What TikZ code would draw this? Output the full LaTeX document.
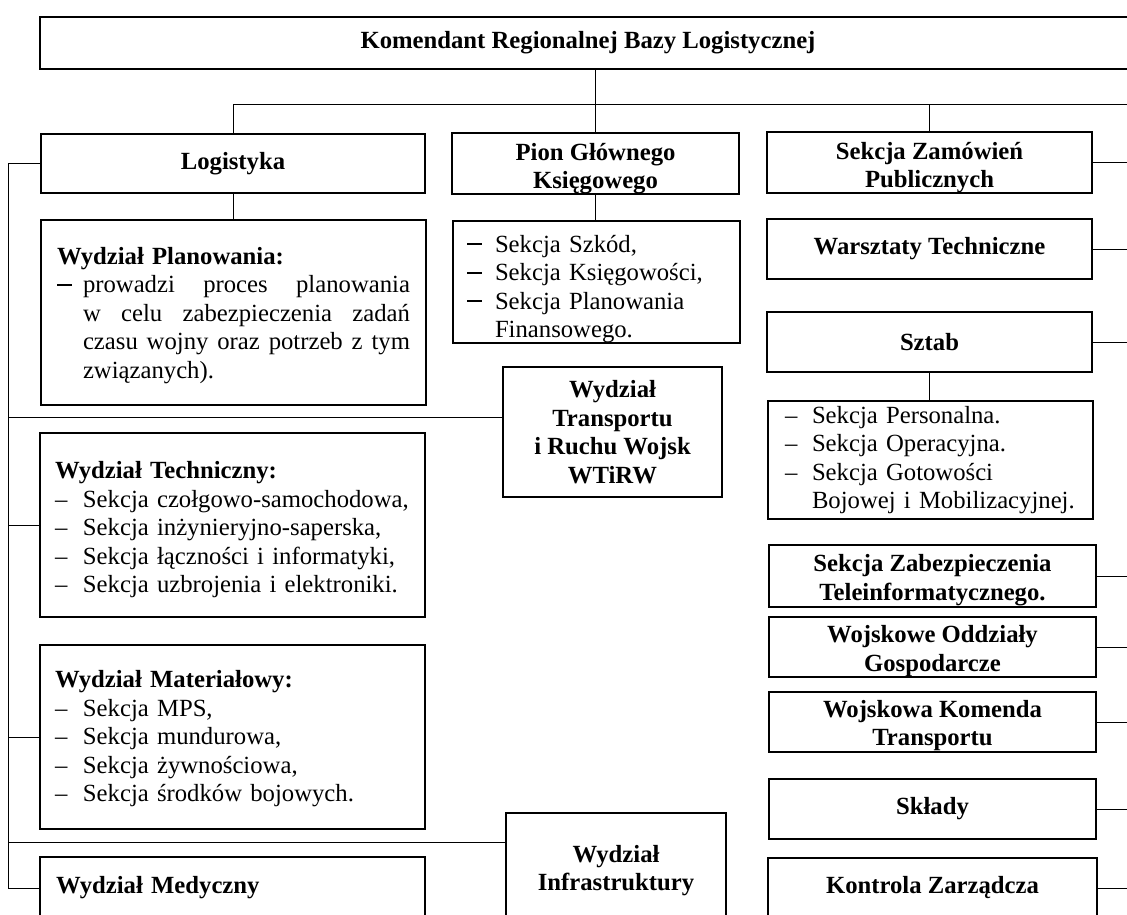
\documentclass[tikz,border=0pt]{standalone}
\usepackage{fontspec}
\setmainfont{Liberation Serif}
\usetikzlibrary{calc}
\newcommand{\li}[1]{\makebox[28pt][l]{–}#1}
\newcommand{\lr}[2]{\makebox[#1][l]{\rule[7pt]{15pt}{1.8pt}}#2}
\newcommand{\st}[1]{\rule{0pt}{#1pt}}
\begin{document}
\begin{tikzpicture}[x=1pt,y=-1pt,
  every node/.style={font=\fontsize{24.7}{28.5}\selectfont},
  box/.style={draw, line width=1.5pt, inner sep=0pt, rectangle},
  hd/.style={box, font=\fontsize{24.7}{28.5}\selectfont\bfseries, align=center},
  lst/.style={box, align=left, inner ysep=0pt},
  conn/.style={line width=0.9pt}]
\useasboundingbox (0,0) rectangle (1127,915);
\clip (0,0) rectangle (1127,915);

% top and first row
\node[hd, minimum width=1096pt, minimum height=52pt] (top) at (588,43) {Komendant Regionalnej Bazy Logistycznej};
\node[hd, minimum width=384pt, minimum height=59pt] (log) at (233,163.5) {Logistyka};
\node[hd, minimum width=287pt, minimum height=59pt] (pion) at (595.5,163.5) {\st{27}Pion Głównego\\Księgowego};
\node[hd, minimum width=325pt, minimum height=61pt] (zam) at (929.5,162.5) {\st{27}Sekcja Zamówień\\Publicznych};

% left column
\node[lst, text width=353pt, inner xsep=16pt, minimum height=185pt] (plan) at (233.5,312.5)
 {\st{23}\textbf{Wydział Planowania:}\\
  \lr{26pt}{\makebox[327pt][l]{prowadzi\hfill proces\hfill planowania}}\\
  \hspace*{26pt}\makebox[327pt][l]{w\hfill celu\hfill zabezpieczenia\hfill zadań}\\
  \hspace*{26pt}\makebox[327pt][l]{czasu\hfill wojny\hfill oraz\hfill potrzeb\hfill z\hfill tym}\\
  \hspace*{26pt}związanych).};
\node[lst, text width=355pt, inner xsep=15pt, minimum height=184pt] (tech) at (232.5,525)
 {\st{27}\textbf{Wydział Techniczny:}\\
  \li{Sekcja czołgowo-samochodowa,}\\
  \li{Sekcja inżynieryjno-saperska,}\\
  \li{Sekcja łączności i informatyki,}\\
  \li{Sekcja uzbrojenia i elektroniki.}};
\node[lst, text width=355pt, inner xsep=15pt, minimum height=184pt] (mat) at (232.5,737)
 {\st{21}\textbf{Wydział Materiałowy:}\\
  \li{Sekcja MPS,}\\
  \li{Sekcja mundurowa,}\\
  \li{Sekcja żywnościowa,}\\
  \li{Sekcja środków bojowych.}};
\node[lst, text width=353pt, inner xsep=16pt, minimum height=62pt] (med) at (232.5,888)
 {\textbf{Wydział Medyczny}};

% middle column
\node[lst, text width=259pt, inner xsep=14pt, minimum height=122pt] (pionsub) at (596.5,282)
 {\st{31}\lr{28pt}{Sekcja Szkód,}\\
  \lr{28pt}{Sekcja Księgowości,}\\
  \lr{28pt}{Sekcja Planowania}\\
  \hspace*{28pt}Finansowego.};
\node[hd, minimum width=219pt, minimum height=130pt] (wtirw) at (612.5,432) {Wydział\\Transportu\\i Ruchu Wojsk\\WTiRW};
\node[hd, minimum width=220pt, minimum height=110pt] (infra) at (616,868) {\st{22}Wydział\\Infrastruktury};

% right column
\node[hd, minimum width=325pt, minimum height=60pt] (warsz) at (929.5,249) {Warsztaty Techniczne};
\node[hd, minimum width=325pt, minimum height=60pt] (sztab) at (929.5,342) {Sztab};
\node[lst, text width=291pt, inner xsep=17pt, minimum height=118pt] (sztabsub) at (930.5,460)
 {\makebox[27pt][l]{–}Sekcja Personalna.\\
  \makebox[27pt][l]{–}Sekcja Operacyjna.\\
  \makebox[27pt][l]{–}Sekcja Gotowości\\
  \hspace*{27pt}Bojowej i Mobilizacyjnej.};
\node[hd, minimum width=327pt, minimum height=62pt] (zabez) at (932.5,576) {\st{25}Sekcja Zabezpieczenia\\Teleinformatycznego.};
\node[hd, minimum width=327pt, minimum height=60pt] (oddz) at (932.5,647) {\st{25}Wojskowe Oddziały\\Gospodarcze};
\node[hd, minimum width=327pt, minimum height=60pt] (kom) at (932.5,722) {\st{24}Wojskowa Komenda\\Transportu};
\node[hd, minimum width=327pt, minimum height=60pt] (sklady) at (932.5,809) {Składy};
\node[hd, minimum width=329pt, minimum height=60pt] (kontr) at (932.5,888) {Kontrola Zarządcza};

% bus coordinates
\coordinate (rb) at (1140,104);
\coordinate (lb) at (8,0);

% connectors
\draw[conn] (top.south -| pion.north) -- (pion.north);
\draw[conn] (log.north) |- (rb);
\draw[conn] (zam.north) -- (zam.north |- rb);
\draw[conn] (log.south) -- (log.south |- plan.north);
\draw[conn] (pion.south) -- (pion.south |- pionsub.north);
\draw[conn] (sztab.south) -- (sztab.south |- sztabsub.north);

\draw[conn] (log.west) -- (log.west -| lb) |- (med.west);
\draw[conn] (tech.west) -- (tech.west -| lb);
\draw[conn] (mat.west) -- (mat.west -| lb);
\coordinate (wt) at ($(wtirw.north west)+(0,51)$);
\draw[conn] (wt) -- (wt -| lb);
\coordinate (inf) at ($(infra.north west)+(0,30)$);
\draw[conn] (inf) -- (inf -| lb);

\foreach \n in {zam,warsz,sztab,zabez,oddz,kom,sklady,kontr}
  \draw[conn] (\n.east) -- (\n.east -| rb);
\end{tikzpicture}
\end{document}
